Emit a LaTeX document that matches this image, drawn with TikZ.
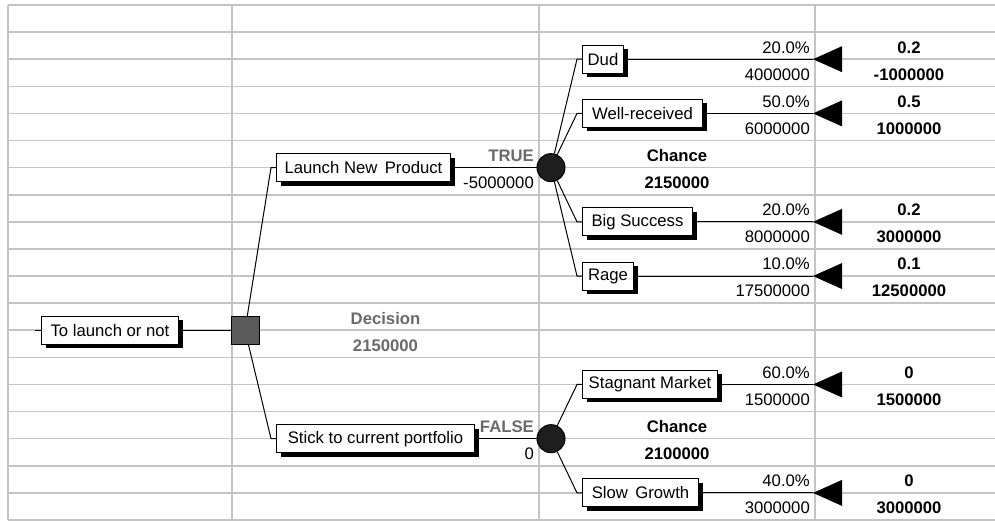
\documentclass[tikz,border=0pt]{standalone}
\usepackage{fontspec}
\setmainfont{Liberation Sans}
\usetikzlibrary{shadows}
\definecolor{gridc}{HTML}{C4C4C4}
\definecolor{lbl}{HTML}{6A6A6A}
\definecolor{decf}{HTML}{5A5A5A}
\definecolor{chf}{HTML}{1E1E1E}
\begin{document}
\begin{tikzpicture}[x=1pt,y=-1pt,
  gridline/.style={draw=gridc, line width=1.6pt},
  edge/.style={draw=black, line width=1pt},
  txt/.style={font=\fontsize{16.7}{20}\selectfont, inner sep=0pt},
  btxt/.style={font=\bfseries\fontsize{16.7}{20}\selectfont, inner sep=0pt},
  gtxt/.style={font=\bfseries\fontsize{16.7}{20}\selectfont, inner sep=0pt, text=lbl},
  box/.style={draw=black, line width=1pt, fill=white, font=\fontsize{16.7}{20}\selectfont,
    minimum height=28pt, inner xsep=0pt, inner ysep=0pt, anchor=west,
    drop shadow={shadow xshift=4pt, shadow yshift=-4pt, fill=black, opacity=1}},
  decnode/.style={draw=black, line width=1pt, fill=decf, minimum size=28pt, inner sep=0pt},
  chnode/.style={draw=black, line width=1pt, fill=chf, circle, minimum size=28pt, inner sep=0pt},
  term/.style={fill=black}
]
\useasboundingbox (0,0) rectangle (995,521);
% grid
\foreach \k in {0,...,19} \draw[gridline] (8,{5+27.105*\k}) -- (995,{5+27.105*\k});
\foreach \xx in {8,232,539,815} \draw[gridline] (\xx,5) -- (\xx,520);

% root and decision
\node[box, minimum width=137pt] (root) at (41,330.26) {To launch or not};
\coordinate (rin) at (35,330.26);
\node[decnode] (dec) at (245,330.26) {};
\node[gtxt, anchor=base] (declbl) at (385.5,324.06) {Decision};
\node[gtxt, anchor=base] (decval) at (385.5,351.17) {2150000};

% first-level branches
\node[box, minimum width=174pt] (launch) at (276,167.63) {Launch New\ \,Product};
\node[box, minimum width=198pt] (stick) at (276,438.68) {Stick to current portfolio};
\coordinate (eL) at (271,167.63);
\coordinate (eS) at (271,438.68);

\node[chnode] (c1) at (551,167.63) {};
\node[chnode] (c2) at (551,438.68) {};

\node[gtxt, anchor=base east] (tl) at (534,161.43) {TRUE};
\node[txt, anchor=base east] (tv) at (534,188.54) {-5000000};
\node[gtxt, anchor=base east] (fl) at (534,432.48) {FALSE};
\node[txt, anchor=base east] (fv) at (534,459.59) {0};

\node[btxt, anchor=base] (c1l) at (677,161.43) {Chance};
\node[btxt, anchor=base] (c1v) at (677,188.54) {2150000};
\node[btxt, anchor=base] (c2l) at (677,432.48) {Chance};
\node[btxt, anchor=base] (c2v) at (677,459.59) {2100000};

% edges level 1
\draw[edge] (rin) -- (root);
\draw[edge] (root) -- (dec);
\draw[edge] (dec) -- (eL) -- (launch);
\draw[edge] (dec) -- (eS) -- (stick);
\draw[edge] (launch) -- (c1);
\draw[edge] (stick) -- (c2);

% outcome branches
\foreach \nn/\pa/\yy/\ww/\lab/\pp/\vv/\rp/\rv in {
  d/c1/59.21/41/Dud/20.0\%/4000000/0.2/-1000000,
  w/c1/113.42/120/Well-received/50.0\%/6000000/0.5/1000000,
  b/c1/221.84/110/Big Success/20.0\%/8000000/0.2/3000000,
  r/c1/276.05/51/Rage/10.0\%/17500000/0.1/12500000,
  s/c2/384.47/135/Stagnant Market/60.0\%/1500000/0/1500000,
  g/c2/492.89/116/Slow\ \,Growth/40.0\%/3000000/0/3000000}{
  \node[box, minimum width=\ww pt] (box\nn) at (582,\yy) {\lab};
  \coordinate (el\nn) at (577,\yy);
  \coordinate (tip\nn) at (813,\yy);
  \draw[edge] (\pa) -- (el\nn) -- (box\nn);
  \draw[edge] (box\nn) -- (tip\nn);
  \fill[term] (tip\nn) -- ++(29,-13) -- ++(0,26) -- cycle;
  \node[txt, anchor=base east] (p\nn) at (810,\yy-6.2) {\pp};
  \node[txt, anchor=base east] (v\nn) at (810,\yy+20.9) {\vv};
  \node[btxt, anchor=base] (rp\nn) at (909,\yy-6.2) {\rp};
  \node[btxt, anchor=base] (rv\nn) at (909,\yy+20.9) {\rv};
}
\end{tikzpicture}
\end{document}
